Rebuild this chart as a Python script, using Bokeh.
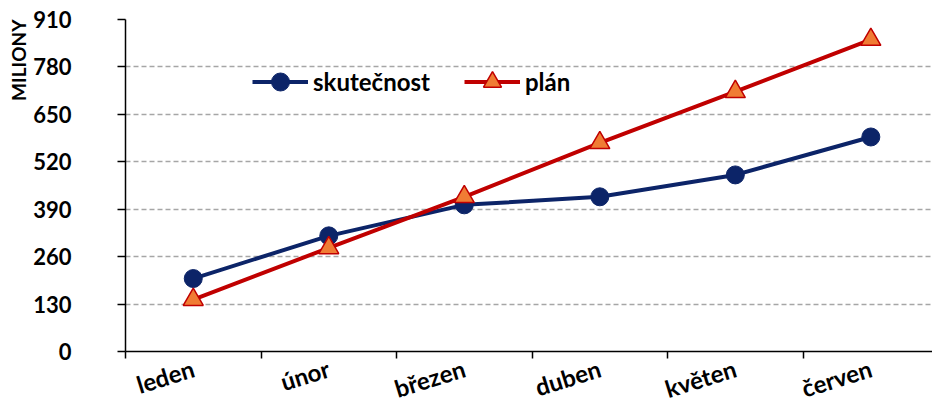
from bokeh.plotting import figure
from bokeh.models import FixedTicker, Range1d, Legend, LegendItem, Title
from bokeh.embed import file_html
from bokeh.resources import INLINE

months = ["leden", "únor", "březen", "duben", "květen", "červen"]
skutecnost = [200, 317, 402, 424, 484, 588]
plan = [142, 284, 424, 572, 712, 855]
y_ticks = [0, 130, 260, 390, 520, 650, 780, 910]

FONT = "Lato"
xs = [i + 0.5 for i in range(len(months))]

p = figure(width=932, height=419, output_backend="svg", toolbar_location=None,
           x_range=Range1d(0, 5.955), y_range=Range1d(0, 910),
           min_border_left=125, min_border_right=0, min_border_top=19, min_border_bottom=67)
p.outline_line_color = None

# x axis: month labels at category centres, tick marks at category boundaries
p.xaxis.ticker = FixedTicker(ticks=xs, minor_ticks=list(range(len(months) + 1)))
p.xaxis.major_label_overrides = {x: m for x, m in zip(xs, months)}
p.xaxis.major_tick_line_color = None
p.xaxis.major_tick_out = 0
p.xaxis.major_tick_in = 0
p.xaxis.minor_tick_out = 7
p.xaxis.minor_tick_in = 0
p.xaxis.minor_tick_line_color = "black"
p.xaxis.minor_tick_line_width = 1.5
p.xaxis.axis_line_color = "black"
p.xaxis.axis_line_width = 1.5
p.xaxis.major_label_orientation = 0.3
p.xaxis.major_label_standoff = 9
p.xaxis.major_label_text_font = FONT
p.xaxis.major_label_text_font_style = "bold"
p.xaxis.major_label_text_font_size = "24px"
p.xaxis.major_label_text_color = "black"

p.yaxis.ticker = FixedTicker(ticks=y_ticks)
p.yaxis.minor_tick_line_color = None
p.yaxis.major_tick_out = 8
p.yaxis.major_tick_in = 0
p.yaxis.major_tick_line_width = 1.5
p.yaxis.axis_line_width = 1.5
p.yaxis.major_label_standoff = 46
p.yaxis.major_label_text_font = FONT
p.yaxis.major_label_text_font_style = "bold"
p.yaxis.major_label_text_font_size = "22px"
p.yaxis.major_label_text_color = "black"

p.add_layout(Title(text="MILIONY", align="right", standoff=1,
                   text_font=FONT, text_font_style="bold", text_font_size="19px",
                   text_color="black"), "left")

p.xgrid.grid_line_color = None
p.ygrid.ticker = FixedTicker(ticks=y_ticks[1:])
p.ygrid.grid_line_color = "#A6A6A6"
p.ygrid.grid_line_dash = "5 3"
p.ygrid.grid_line_width = 1.3

l1 = p.line(xs, skutecnost, line_color="#0C2468", line_width=4)
m1 = p.scatter(xs, skutecnost, marker="circle", size=18, fill_color="#0C2468", line_color="#0C2468")
l2 = p.line(xs, plan, line_color="#C00000", line_width=4)
m2 = p.scatter(xs, plan, marker="triangle", size=20, fill_color="#F07C34", line_color="#C00000", line_width=1.5)

legend = Legend(items=[LegendItem(label="skutečnost", renderers=[l1, m1]),
                       LegendItem(label="plán", renderers=[l2, m2])],
                orientation="horizontal", location=(127, 247),
                glyph_width=56, glyph_height=45, label_standoff=5, spacing=34,
                padding=0, margin=0, border_line_color=None,
                background_fill_alpha=0,
                label_text_font=FONT, label_text_font_style="bold",
                label_text_font_size="24px", label_text_color="black")
p.add_layout(legend, "center")

open("out.html", "w").write(file_html(p, INLINE))
